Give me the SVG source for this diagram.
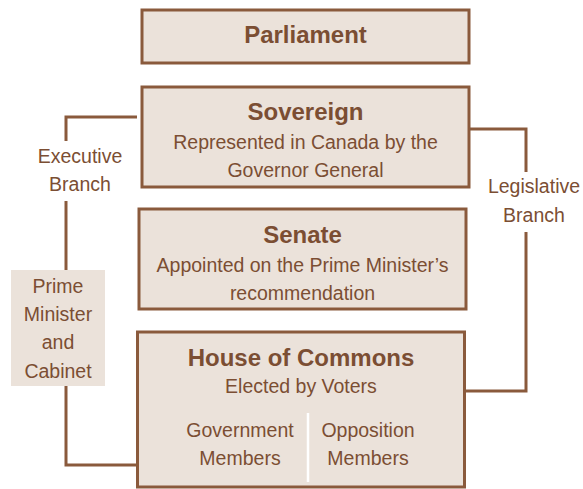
<svg xmlns="http://www.w3.org/2000/svg" width="583" height="489" viewBox="0 0 583 489">
<style>
.box{fill:#ebe2da;stroke:#8a5a3c;stroke-width:3}
.pm{fill:#ebe2da;stroke:none}
.ln{fill:none;stroke:#8a5a3c;stroke-width:3}
text{font-family:"Liberation Sans",Arial,sans-serif;fill:#7b4e33;text-anchor:middle}
.t{font-size:24px;font-weight:bold}
.s{font-size:19.5px}
</style>
<rect width="583" height="489" fill="#ffffff"/>
<g id="connectors">
<polyline class="ln" points="137,117 66,117 66,141"/>
<polyline class="ln" points="66,201 66,270"/>
<polyline class="ln" points="66,386 66,465 137,465"/>
<polyline class="ln" points="469,129 526,129 526,172"/>
<polyline class="ln" points="526,232 526,391 465,391"/>
</g>
<g id="parliament">
<rect class="box" x="142" y="10" width="327" height="53"/>
<text class="t" x="305.5" y="43">Parliament</text>
</g>
<g id="sovereign">
<rect class="box" x="142" y="87" width="327" height="100"/>
<text class="t" x="305.5" y="120">Sovereign</text>
<text class="s" x="305.5" y="149">Represented in Canada by the</text>
<text class="s" x="305.5" y="177">Governor General</text>
</g>
<g id="senate">
<rect class="box" x="139" y="209" width="327" height="100"/>
<text class="t" x="302.5" y="243">Senate</text>
<text class="s" x="302.5" y="272">Appointed on the Prime Minister’s</text>
<text class="s" x="302.5" y="300">recommendation</text>
</g>
<g id="house">
<rect class="box" x="137.5" y="332" width="327" height="155"/>
<text class="t" x="301" y="366">House of Commons</text>
<text class="s" x="301" y="393">Elected by Voters</text>
<line x1="308" y1="413" x2="308" y2="482" stroke="#ffffff" stroke-width="2.5"/>
<text class="s" x="240" y="437">Government</text>
<text class="s" x="240" y="465">Members</text>
<text class="s" x="368" y="437">Opposition</text>
<text class="s" x="368" y="465">Members</text>
</g>
<g id="executive">
<text class="s" x="80" y="163">Executive</text>
<text class="s" x="80" y="191">Branch</text>
</g>
<g id="legislative">
<text class="s" x="534" y="193">Legislative</text>
<text class="s" x="534" y="222">Branch</text>
</g>
<g id="pm-cabinet">
<rect class="pm" x="11" y="270" width="94" height="116"/>
<text class="s" x="58" y="293">Prime</text>
<text class="s" x="58" y="321">Minister</text>
<text class="s" x="58" y="349">and</text>
<text class="s" x="58" y="378">Cabinet</text>
</g>
</svg>
